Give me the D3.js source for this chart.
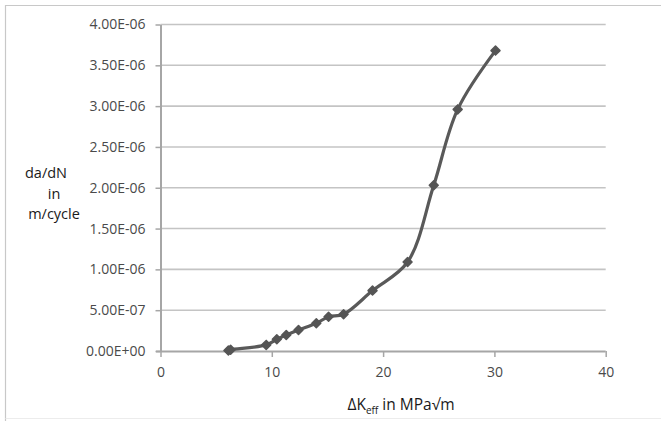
<!DOCTYPE html>
<html>
<head>
<meta charset="utf-8">
<script src="https://cdn.jsdelivr.net/npm/d3@7"></script>
<style>
body { margin: 0; background: #fff; }
text { font-family: "Open Sans", sans-serif; }
</style>
</head>
<body>
<script>
var width = 661,
    height = 421;

// values
var deltaK = [6.1, 6.3, 9.5, 10.45, 11.3, 12.4, 14.0, 15.1, 16.45, 19.05, 22.2, 24.55, 26.7, 30.1];
var dadN = [0.5e-8, 1.5e-8, 7.5e-8, 1.43e-7, 1.96e-7, 2.57e-7, 3.39e-7, 4.2e-7, 4.5e-7, 7.4e-7, 1.09e-6, 2.03e-6, 2.96e-6, 3.68e-6];
var xTicks = [0, 10, 20, 30, 40];
var yTicks = [0, 5e-7, 1e-6, 1.5e-6, 2e-6, 2.5e-6, 3e-6, 3.5e-6, 4e-6];
var yTitle = ["da/dN", "in", "m/cycle"];

var points = deltaK.map(function(k, i) { return {x: k, y: dadN[i]}; });

var x = d3.scaleLinear().domain([0, 40]).range([160.5, 605.7]);
var y = d3.scaleLinear().domain([0, 4e-6]).range([351, 24.5]);

// excel style 0.00E+00
function sci(v) {
    if (v === 0) return "0.00E+00";
    var e = Math.floor(Math.log10(Math.abs(v)) + 1e-9);
    var m = v / Math.pow(10, e);
    var es = Math.abs(e) < 10 ? "0" + Math.abs(e) : "" + Math.abs(e);
    return m.toFixed(2) + "E" + (e < 0 ? "-" : "+") + es;
}

var svg = d3.select("body")
    .append("svg")
    .attr("width", width)
    .attr("height", height);

// outer frame
svg.append("path")
    .attr("d", "M5.5,421 V5.5 H661")
    .attr("fill", "none")
    .attr("stroke", "#c8c8c8")
    .attr("stroke-width", 1.2);
svg.append("line")
    .attr("x1", 5.5).attr("x2", 661)
    .attr("y1", 418.5).attr("y2", 418.5)
    .attr("stroke", "#ececec");

// gridlines
svg.append("g").selectAll("line")
    .data(yTicks.slice(1))
    .enter().append("line")
    .attr("x1", x(0)).attr("x2", x(40))
    .attr("y1", function(d) { return y(d); })
    .attr("y2", function(d) { return y(d); })
    .attr("stroke", "#c4c4c4")
    .attr("stroke-width", 1.6);

var yAxis = svg.append("g")
    .attr("transform", "translate(" + x(0) + ",0)")
    .call(d3.axisLeft(y).tickValues(yTicks).tickFormat(sci).tickSize(5).tickSizeOuter(0).tickPadding(10));

var xAxis = svg.append("g")
    .attr("transform", "translate(0," + y(0) + ")")
    .call(d3.axisBottom(x).tickValues(xTicks).tickSize(6).tickSizeOuter(0).tickPadding(10));

[yAxis, xAxis].forEach(function(a) {
    a.select(".domain").attr("stroke", "#a6a6a6").attr("stroke-width", 2);
    a.selectAll(".tick line").attr("stroke", "#a6a6a6").attr("stroke-width", 1.5);
    a.selectAll(".tick text")
        .attr("fill", "#4a4a4a")
        .style("font-size", "14px")
        .style("font-family", "'Open Sans', sans-serif");
});
xAxis.select(".domain").attr("d", "M156," + 0.5 + "H" + x(40));

// data line
var line = d3.line()
    .x(function(d) { return x(d.x); })
    .y(function(d) { return y(d.y); })
    .curve(d3.curveCatmullRom.alpha(0.5));

svg.append("path")
    .datum(points)
    .attr("d", line)
    .attr("fill", "none")
    .attr("stroke", "#595959")
    .attr("stroke-width", 3.2);

// diamond markers (rotated squares)
svg.append("g").selectAll("path")
    .data(points)
    .enter().append("path")
    .attr("transform", function(d) { return "translate(" + x(d.x) + "," + y(d.y) + ") rotate(45)"; })
    .attr("d", d3.symbol().type(d3.symbolSquare).size(40))
    .attr("fill", "#555")
    .attr("stroke", "#555")
    .attr("stroke-width", 1.5)
    .attr("stroke-linejoin", "round");

// y title, one text per line
svg.append("g").selectAll("text")
    .data(yTitle)
    .enter().append("text")
    .attr("x", function(d, i) { return i === 0 ? 46 : 54; })
    .attr("y", function(d, i) { return 178 + i * 20.5; })
    .attr("text-anchor", "middle")
    .attr("fill", "#1a1a1a")
    .style("font-size", "14.5px")
    .text(function(d) { return d; });

// x title
var xt = svg.append("text")
    .attr("x", 401)
    .attr("y", 410)
    .attr("text-anchor", "middle")
    .attr("fill", "#1a1a1a")
    .style("font-size", "15.5px");
xt.append("tspan").text("\u0394K");
xt.append("tspan").attr("dy", 4).style("font-size", "10px").text("eff");
xt.append("tspan").attr("dy", -4).text(" in MPa\u221Am");
</script>
</body>
</html>
